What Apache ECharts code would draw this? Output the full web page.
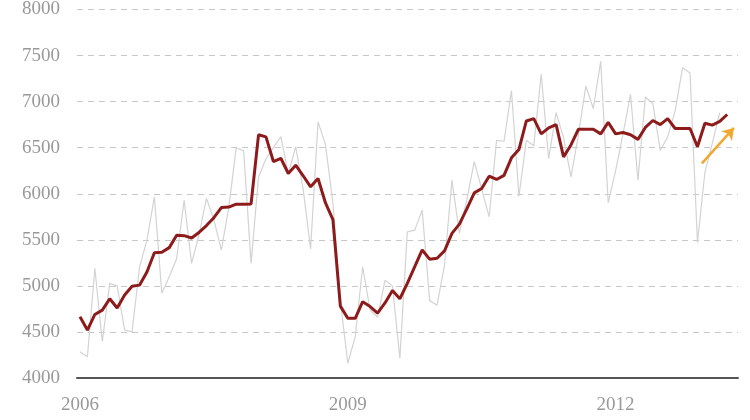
<!DOCTYPE html>
<html>
<head>
<meta charset="utf-8">
<script src="https://cdn.jsdelivr.net/npm/echarts@6/dist/echarts.min.js"></script>
<style>
html,body{margin:0;padding:0;background:#fff;}
#chart{width:750px;height:420px;}
</style>
</head>
<body>
<div id="chart"></div>
<script>
// Monthly series, Jan 2006 .. Apr 2013 (index 0 = Jan 2006)
const yearLabels = {0: '2006', 36: '2009', 72: '2012'};
const labelPositions = [0, 36, 72];
const yTicks = [4000, 4500, 5000, 5500, 6000, 6500, 7000, 7500, 8000];

const trend = [4665,4520,4690,4737,4860,4760,4900,4995,5008,5150,
  5360,5365,5415,5550,5545,5520,5580,5655,5740,5850,
  5855,5887,5887,5890,6640,6617,6350,6385,6220,6310,
  6195,6075,6166,5900,5720,4780,4648,4648,4828,4775,
  4705,4815,4950,4860,5027,5210,5390,5290,5300,5380,
  5570,5670,5835,6010,6057,6190,6155,6200,6390,6480,
  6790,6815,6650,6715,6750,6400,6530,6700,6700,6700,
  6650,6775,6650,6665,6640,6590,6720,6795,6750,6815,
  6708,6708,6708,6510,6765,6745,6785,6860];

const monthly = [4285,4231,5190,4394,5027,5000,4520,4500,5200,5497,
  5966,4919,5100,5298,5930,5244,5555,5950,5720,5388,
  5850,6500,6465,5244,6180,6380,6500,6620,6220,6509,
  6050,5400,6780,6530,5900,4830,4160,4450,5207,4738,
  4660,5060,5000,4213,5587,5605,5822,4840,4790,5226,
  6148,5570,5935,6350,6050,5750,6580,6570,7120,5970,
  6580,6520,7300,6380,6880,6610,6183,6640,7170,6925,
  7440,5900,6250,6650,7080,6148,7050,6980,6470,6617,
  6900,7370,7310,5470,6230,6550,6880];

const arrowStart = [83.6, 6330];
const arrowEnd = [87.9, 6715];

const trendData = trend.map((v, i) => [i, v]);
const monthlyData = monthly.map((v, i) => [i, v]);

const chart = echarts.init(document.getElementById('chart'), null, {renderer: 'canvas'});
const fontFam = '"Liberation Serif", "DejaVu Serif", serif';
chart.setOption({
  animation: false,
  backgroundColor: '#ffffff',
  grid: {left: 77, right: 12, top: 9, bottom: 42, containLabel: false},
  xAxis: {
    type: 'value',
    min: -0.4,
    max: 88.45,
    axisLine: {show: true, lineStyle: {color: '#555555', width: 2}},
    axisTick: {show: false},
    splitLine: {show: false},
    axisLabel: {
      customValues: labelPositions,
      formatter: v => yearLabels[v] || '',
      color: '#999999',
      fontFamily: fontFam,
      fontSize: 19,
      margin: 18
    }
  },
  yAxis: {
    type: 'value',
    min: 4000,
    max: 8000,
    interval: 500,
    axisLine: {show: false},
    axisTick: {show: false},
    axisLabel: {
      color: '#999999',
      fontFamily: fontFam,
      fontSize: 19,
      margin: 17,
      formatter: v => yTicks.includes(v) ? String(v) : ''
    },
    splitLine: {show: true, lineStyle: {color: '#c8c8c8', type: [6, 5], width: 1}}
  },
  series: [
    {
      type: 'line',
      data: monthlyData,
      symbol: 'none',
      lineStyle: {color: '#d3d3d3', width: 1.2},
      z: 2
    },
    {
      type: 'line',
      data: trendData,
      symbol: 'none',
      lineStyle: {color: '#8e1b1b', width: 3},
      z: 3,
      markLine: {
        silent: true,
        symbol: ['none', 'arrow'],
        symbolSize: 11,
        label: {show: false},
        lineStyle: {color: '#f0a830', width: 2.5, type: 'solid'},
        data: [[{coord: arrowStart}, {coord: arrowEnd}]]
      }
    }
  ]
});
</script>
</body>
</html>
